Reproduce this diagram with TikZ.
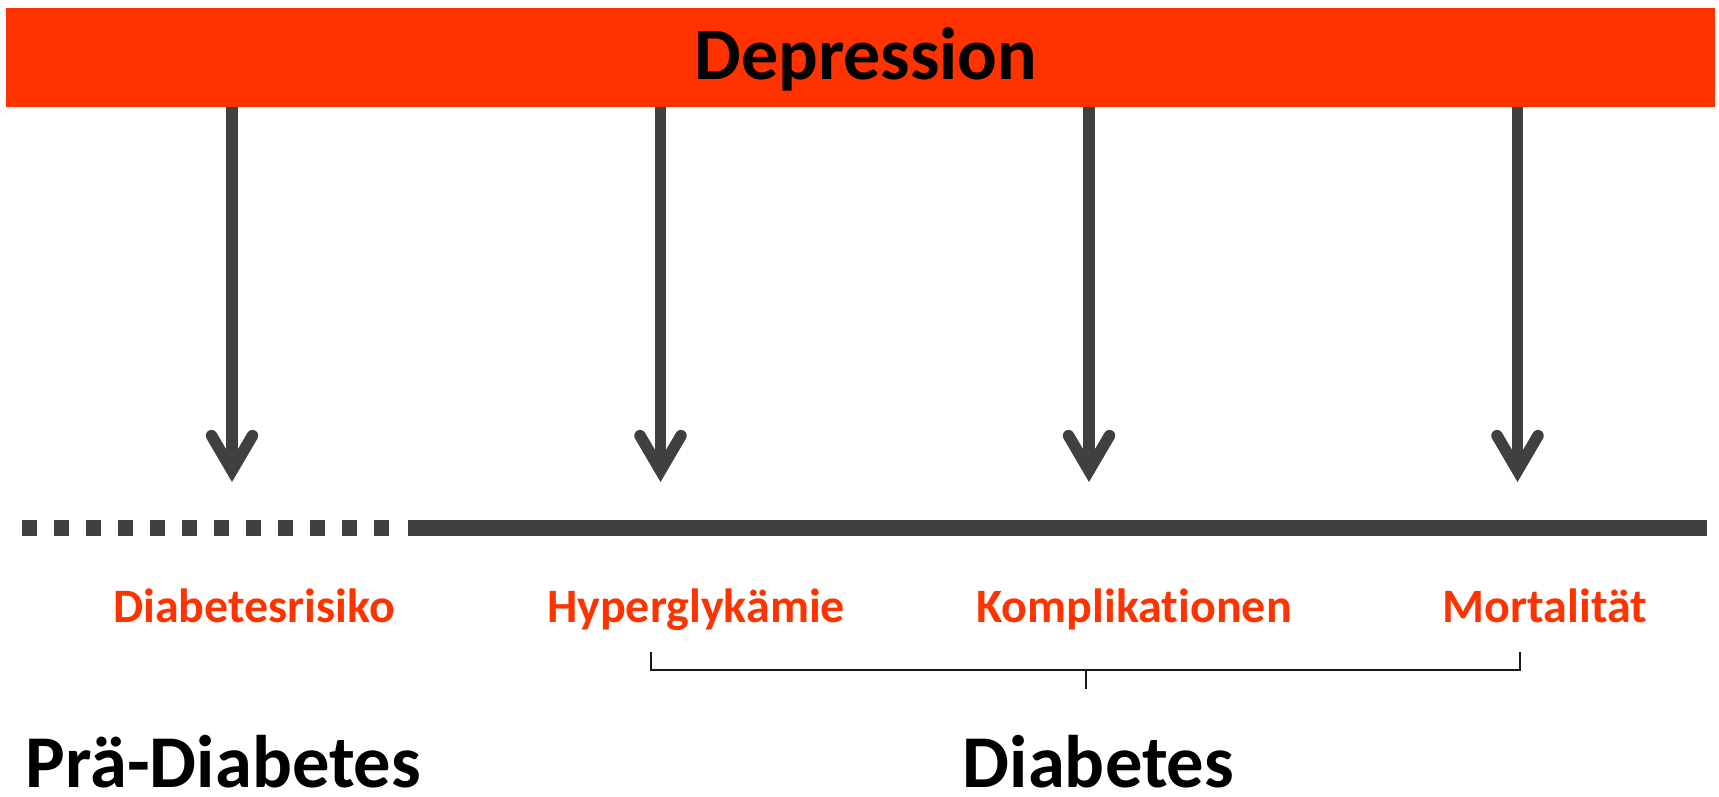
\documentclass[tikz,border=0pt]{standalone}
\usepackage{fontspec}
\setmainfont[Ligatures=NoCommon]{Carlito}
\usetikzlibrary{arrows.meta}
\definecolor{dred}{HTML}{FF3300}
\definecolor{dgray}{HTML}{404040}
\begin{document}
\begin{tikzpicture}[x=1pt,y=-1pt,
  lbl/.style={text=dred,font=\bfseries\fontsize{48}{52}\selectfont,inner sep=0pt,anchor=base},
  big/.style={text=black,font=\bfseries\fontsize{74.5}{80}\selectfont,inner sep=0pt,anchor=base,text depth=0pt},
  down/.style={draw=dgray,line width=11.5pt,-{Straight Barb[length=35pt,width=41pt,line cap=round,line join=miter]}},
  tl/.style={draw=dgray,line width=15.5pt},
  brk/.style={draw=black!90,line width=2pt}
]
\useasboundingbox (0,0) rectangle (1719,796);
% banner
\node[fill=dred,minimum width=1709pt,minimum height=99.7pt,inner sep=0pt,anchor=north west] (dep) at (5.5,7.3) {};
\node[big,font=\bfseries\fontsize{74}{80}\selectfont] (deptxt) at (866,79) {Depression};
% arrow tips
\coordinate (t1) at (232,482);
\coordinate (t2) at (660.5,482);
\coordinate (t3) at (1089,482);
\coordinate (t4) at (1517.5,482);
\foreach \i in {1,2,3,4}{\draw[down] (dep.south -| t\i) -- (t\i);}
% timeline
\coordinate (d0) at (21.7,528);
\coordinate (d1) at (389.3,528);
\coordinate (s0) at (408,528);
\coordinate (s1) at (1707,528);
\draw[tl,dash pattern=on 15.6pt off 16.4pt] (d0) -- (d1);
\draw[tl] (s0) -- (s1);
% labels
\node[lbl] (l1) at (254,622) {Diabetesrisiko};
\node[lbl] (l2) at (696,622) {Hyperglykämie};
\node[lbl] (l3) at (1134,622) {Komplikationen};
\node[lbl] (l4) at (1545,622) {Mortalität};
% bracket
\coordinate (b1) at (651,652);
\coordinate (b2) at (651,670);
\coordinate (b3) at (1520,670);
\coordinate (b4) at (1520,652);
\coordinate (bm) at (1085.5,670);
\coordinate (bt) at (1085.5,689);
\draw[brk] (b1) -- (b2) -- (b3) -- (b4);
\draw[brk] (bm) -- (bt);
% phase labels
\node[big] (pre) at (223.5,787) {Prä-Diabetes};
\node[big] (dia) at (1098.5,787) {Diabetes};
\end{tikzpicture}
\end{document}
